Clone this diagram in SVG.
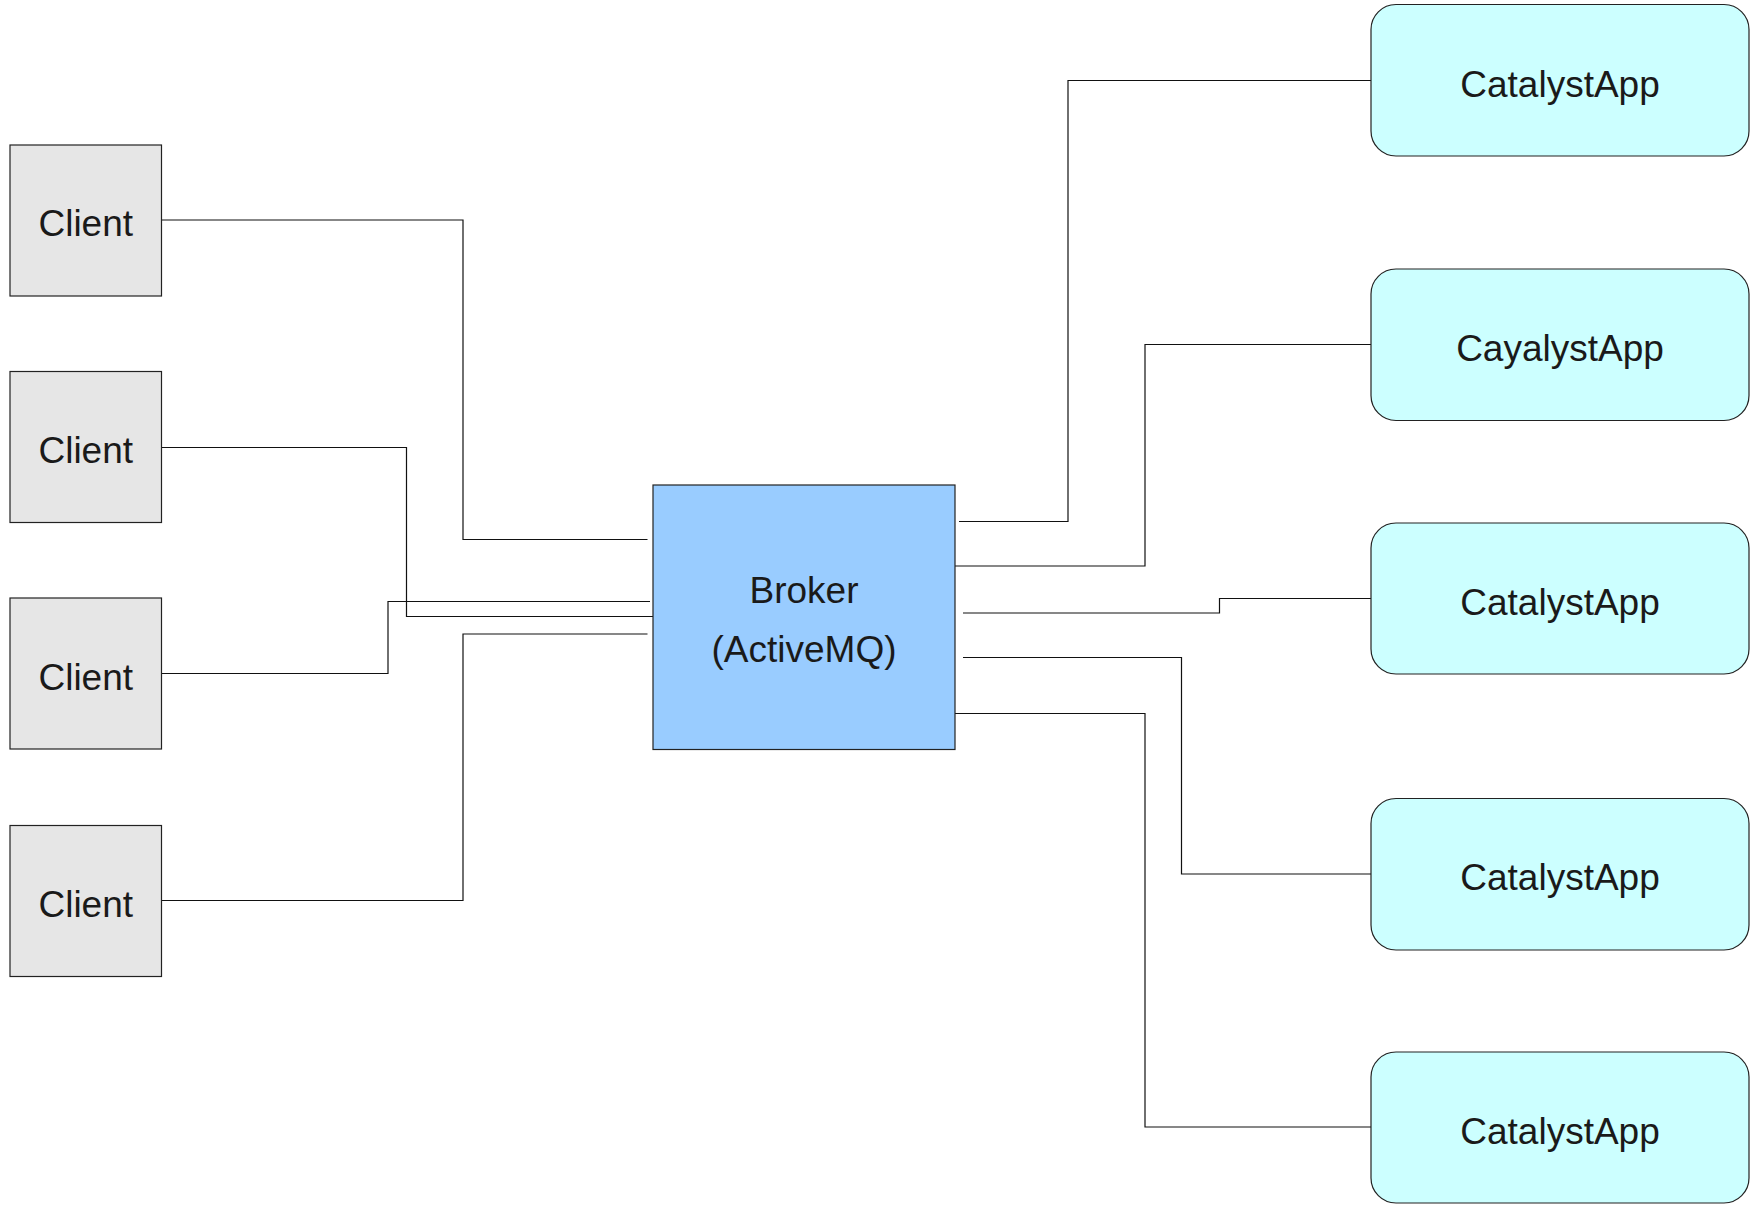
<svg xmlns="http://www.w3.org/2000/svg" width="1759" height="1207" viewBox="0 0 1759 1207">
<style>
.client{fill:#e6e6e6;stroke:#222;stroke-width:1.2}
.broker{fill:#99ccff;stroke:#222;stroke-width:1.2}
.app{fill:#ccffff;stroke:#222;stroke-width:1.2}
.lbl{font-family:"Liberation Sans",Arial,sans-serif;font-size:37px;fill:#1a1a1a;text-anchor:middle}
.conn{fill:none;stroke:#111;stroke-width:1.2}
</style>
<rect width="1759" height="1207" fill="#fff"/>
<g id="connectors">
<polyline class="conn" points="161.5,220 463,220 463,539.5 647.5,539.5"/>
<polyline class="conn" points="161.5,447.5 406.5,447.5 406.5,616.5 653,616.5"/>
<polyline class="conn" points="161.5,673.5 388,673.5 388,601.5 650,601.5"/>
<polyline class="conn" points="161.5,900.5 463,900.5 463,634 647.5,634"/>
<polyline class="conn" points="959,521.5 1068,521.5 1068,80.5 1371,80.5"/>
<polyline class="conn" points="955,566 1145,566 1145,344.5 1371,344.5"/>
<polyline class="conn" points="963,613 1219.5,613 1219.5,598.5 1371,598.5"/>
<polyline class="conn" points="963,657.5 1181.5,657.5 1181.5,874 1371,874"/>
<polyline class="conn" points="955,713.5 1145,713.5 1145,1127 1371,1127"/>
</g>
<g id="client1"><rect class="client" x="10" y="145" width="151.5" height="151"/><text class="lbl" x="85.75" y="236">Client</text></g>
<g id="client2"><rect class="client" x="10" y="371.5" width="151.5" height="151"/><text class="lbl" x="85.75" y="463">Client</text></g>
<g id="client3"><rect class="client" x="10" y="598" width="151.5" height="151"/><text class="lbl" x="85.75" y="689.5">Client</text></g>
<g id="client4"><rect class="client" x="10" y="825.5" width="151.5" height="151"/><text class="lbl" x="85.75" y="917">Client</text></g>
<g id="broker"><rect class="broker" x="653" y="485" width="302" height="264.5"/><text class="lbl" x="804" y="603">Broker</text><text class="lbl" x="804" y="662">(ActiveMQ)</text></g>
<g id="app1"><rect class="app" x="1371" y="4.5" width="378" height="151.5" rx="25" ry="25"/><text class="lbl" x="1560" y="97">CatalystApp</text></g>
<g id="app2"><rect class="app" x="1371" y="269" width="378" height="151.5" rx="25" ry="25"/><text class="lbl" x="1560" y="361">CayalystApp</text></g>
<g id="app3"><rect class="app" x="1371" y="523" width="378" height="151" rx="25" ry="25"/><text class="lbl" x="1560" y="614.5">CatalystApp</text></g>
<g id="app4"><rect class="app" x="1371" y="798.5" width="378" height="151.5" rx="25" ry="25"/><text class="lbl" x="1560" y="890">CatalystApp</text></g>
<g id="app5"><rect class="app" x="1371" y="1052" width="378" height="151" rx="25" ry="25"/><text class="lbl" x="1560" y="1143.5">CatalystApp</text></g>
</svg>
